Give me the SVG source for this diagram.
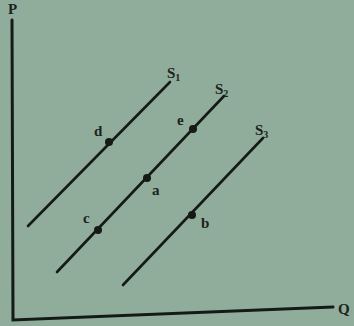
<svg xmlns="http://www.w3.org/2000/svg" width="354" height="326" viewBox="0 0 354 326">
<style>
.ax{stroke:#151a17;stroke-width:3;fill:none;stroke-linecap:round}
.ln{stroke:#151a17;stroke-width:2.6;fill:none;stroke-linecap:round}
.pt{fill:#151a17}
text{font-family:"Liberation Serif","DejaVu Serif",serif;font-weight:bold;fill:#1c221e}
.lb{font-size:15px}
.sb{font-size:10px}
</style>
<rect width="354" height="326" fill="#8fad9a"/>
<g id="axes">
<text x="8" y="14" class="lb" font-size="13">P</text>
<text x="338" y="314" class="lb" font-size="13">Q</text>
</g>
<g id="connectors">
<polyline class="ax" points="12,20 13,320 333,307"/>
<line class="ln" x1="28" y1="226" x2="170" y2="82"/>
<line class="ln" x1="57" y1="272" x2="224" y2="96"/>
<line class="ln" x1="123" y1="285" x2="263" y2="138"/>
</g>
<g id="S1"><text x="167" y="78" class="lb">S<tspan class="sb" dy="3">1</tspan></text></g>
<g id="S2"><text x="215" y="94" class="lb">S<tspan class="sb" dy="3">2</tspan></text></g>
<g id="S3"><text x="255" y="135" class="lb">S<tspan class="sb" dy="3">3</tspan></text></g>
<g id="d"><circle class="pt" cx="109" cy="142" r="4"/><text x="94" y="136" class="lb">d</text></g>
<g id="e"><circle class="pt" cx="193" cy="129" r="4"/><text x="177" y="125" class="lb">e</text></g>
<g id="a"><circle class="pt" cx="147" cy="178" r="4"/><text x="152" y="195" class="lb">a</text></g>
<g id="c"><circle class="pt" cx="98" cy="230" r="4"/><text x="83" y="223" class="lb">c</text></g>
<g id="b"><circle class="pt" cx="192" cy="215" r="4"/><text x="201" y="228" class="lb">b</text></g>
</svg>
